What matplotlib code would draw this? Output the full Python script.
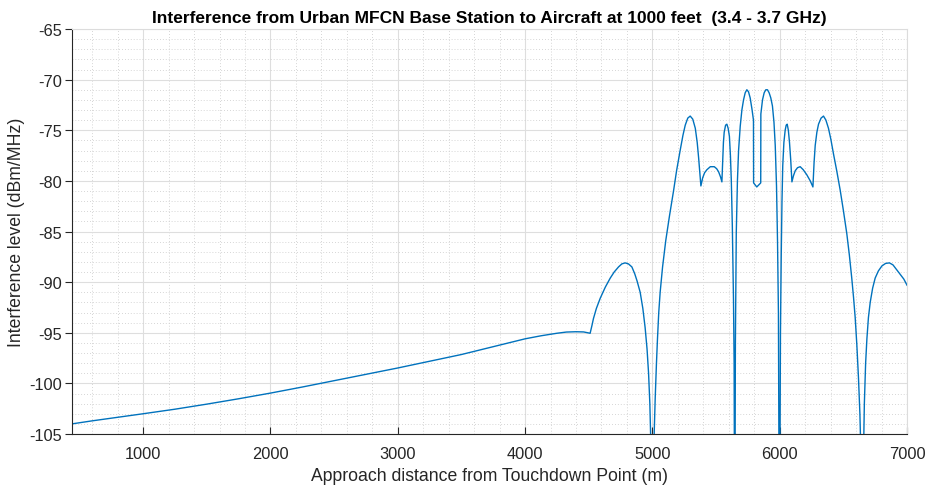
import matplotlib
matplotlib.use("Agg")
import matplotlib.pyplot as plt
from matplotlib.ticker import MultipleLocator

plt.rcParams['font.family'] = ['Liberation Sans', 'DejaVu Sans']
plt.rcParams['axes.unicode_minus'] = False

title = "Interference from Urban MFCN Base Station to Aircraft at 1000 feet  (3.4 - 3.7 GHz)"
xlabel = "Approach distance from Touchdown Point (m)"
ylabel = "Interference level (dBm/MHz)"

distance_m = [441, 600, 800, 1000, 1250, 1500, 1750, 2000, 2250, 2500, 2750, 3000,
              3250, 3500, 3750, 4000, 4125, 4250, 4325, 4400, 4460, 4511,
              4525, 4537, 4560, 4590, 4630, 4669, 4700, 4734, 4760, 4786, 4812, 4839,
              4862, 4880, 4904, 4925, 4943, 4958, 4970, 4980, 4988, 4997, 5006, 5014,
              5022, 5032, 5040, 5050, 5061, 5080, 5105, 5135, 5166, 5190, 5218, 5240,
              5258, 5278, 5297, 5317, 5337, 5352, 5363, 5373, 5381, 5395, 5410, 5428,
              5455, 5486, 5505, 5520, 5535, 5546, 5552, 5558, 5564, 5575, 5585, 5595,
              5605, 5613, 5620, 5628, 5637, 5642, 5647, 5652, 5659, 5668, 5677, 5690,
              5703, 5716, 5729, 5742, 5755, 5768, 5782, 5794, 5795, 5808, 5820, 5835,
              5851, 5852, 5865, 5878, 5891, 5904, 5917, 5930, 5943, 5955, 5965, 5975,
              5983, 5990, 5998, 6006, 6012, 6018, 6024, 6033, 6043, 6051, 6059, 6068,
              6077, 6087, 6096, 6108, 6122, 6140, 6161, 6185, 6213, 6240, 6261, 6270,
              6279, 6292, 6305, 6325, 6344, 6363, 6383, 6402, 6422, 6448, 6475, 6500,
              6527, 6547, 6566, 6580, 6593, 6606, 6619, 6630, 6640, 6648, 6657, 6665,
              6675, 6685, 6697, 6711, 6730, 6750, 6775, 6803, 6832, 6862, 6890, 6920,
              6950, 6975, 7000]
level_dbm = [-104.0, -103.7, -103.35, -103.0, -102.55, -102.05, -101.52, -100.96, -100.36, -99.73, -99.11, -98.48,
             -97.82, -97.15, -96.38, -95.6, -95.3, -95.05, -94.93, -94.9, -94.92, -95.05,
             -94.3, -93.6, -92.6, -91.6, -90.5, -89.6, -89.0, -88.5, -88.2, -88.1, -88.2, -88.5,
             -89.2, -89.9, -91.0, -92.6, -94.5, -96.6, -99.0, -102.0, -106.0, -120.0, -110.0, -105.0,
             -101.5, -98.0, -95.6, -93.0, -91.0, -88.5, -85.9, -83.4, -81.0, -79.0, -77.0, -75.5,
             -74.5, -73.8, -73.6, -73.9, -74.8, -76.2, -77.7, -79.2, -80.5, -79.7, -79.2, -78.9,
             -78.6, -78.6, -78.8, -79.1, -79.6, -80.1, -78.0, -76.2, -75.2, -74.5, -74.4, -74.8,
             -75.6, -77.5, -80.0, -84.5, -91.7, -98.0, -120.0, -96.0, -85.1, -80.0, -77.0, -74.6,
             -73.0, -72.0, -71.3, -71.0, -71.2, -71.8, -72.9, -74.0, -80.2, -80.4, -80.6, -80.4,
             -80.2, -73.4, -72.0, -71.3, -71.0, -71.0, -71.3, -71.8, -72.6, -74.2, -76.5, -80.5,
             -86.0, -93.0, -120.0, -95.0, -87.5, -82.0, -78.5, -76.2, -75.0, -74.5, -74.4, -75.0,
             -76.2, -78.0, -80.1, -79.5, -79.0, -78.7, -78.6, -78.9, -79.4, -80.0, -80.6, -78.2,
             -76.5, -75.2, -74.4, -73.8, -73.6, -74.0, -74.8, -75.9, -77.3, -79.0, -80.9, -82.9,
             -85.2, -87.3, -89.6, -91.5, -93.5, -96.2, -99.5, -103.0, -108.0, -120.0, -108.0, -102.0,
             -98.0, -95.6, -93.5, -92.0, -90.6, -89.6, -88.9, -88.4, -88.15, -88.1, -88.3, -88.8,
             -89.3, -89.7, -90.3]

xticks = [1000, 2000, 3000, 4000, 5000, 6000, 7000]
yticks = [-105, -100, -95, -90, -85, -80, -75, -70, -65]

fig = plt.figure(figsize=(9.28, 4.89), dpi=100)
ax = fig.add_axes([72/928, 1-435/489, (907-72)/928, (435-30)/489])

ax.plot(distance_m, level_dbm, color='#0072BD', lw=1.0)
ax.set_xlim(441, 7000)
ax.set_ylim(-105, -65)
ax.set_xticks(xticks)
ax.set_yticks(yticks)
ax.xaxis.set_minor_locator(MultipleLocator(200))
ax.yaxis.set_minor_locator(MultipleLocator(1))

ax.grid(which='major', color='#dedede', lw=0.8, ls='-')
ax.grid(which='minor', color='#c8c8c8', lw=0.6, ls=(0, (1, 2.5)))
ax.set_axisbelow(True)

for s in ['left', 'bottom']:
    ax.spines[s].set_color('#262626')
    ax.spines[s].set_linewidth(0.8)
for s in ['top', 'right']:
    ax.spines[s].set_color('#dcdcdc')
    ax.spines[s].set_linewidth(0.8)

ax.tick_params(axis='x', which='major', direction='in', length=5, color='#262626',
               labelsize=11.8, labelcolor='#262626', pad=9)
ax.tick_params(axis='y', which='major', direction='out', length=5, color='#262626',
               labelsize=11.8, labelcolor='#262626', pad=2)
ax.tick_params(which='minor', length=0)

ax.set_xlabel(xlabel, fontsize=12.7, color='#262626', labelpad=4)
ax.set_ylabel(ylabel, fontsize=12.7, color='#262626', labelpad=3)
ax.set_title(title, fontsize=12.5, fontweight='bold', color='black', pad=5)

fig.savefig("out.png", dpi=100)
